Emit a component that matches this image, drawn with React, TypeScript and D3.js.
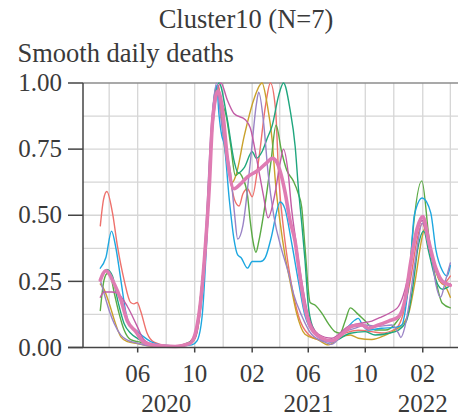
import React from "react";
import * as d3 from "d3";

type Pt = [string, number];

const RED: Pt[] = [["2020-03-13",0.46],["2020-03-20",0.56],["2020-03-27",0.59],["2020-04-08",0.51],["2020-04-19",0.38],["2020-05-03",0.255],["2020-05-17",0.17],["2020-05-24",0.165],["2020-05-31",0.17],["2020-06-07",0.14],["2020-06-21",0.055],["2020-07-06",0.02],["2020-08-01",0.008],["2020-09-01",0.006],["2020-09-20",0.02],["2020-10-01",0.05],["2020-10-14",0.2],["2020-10-25",0.43],["2020-11-05",0.8],["2020-11-14",0.97],["2020-11-21",0.99],["2020-12-01",0.82],["2020-12-14",0.66],["2020-12-25",0.56],["2021-01-04",0.535],["2021-01-12",0.58],["2021-01-22",0.6],["2021-02-01",0.57],["2021-02-15",0.71],["2021-03-02",0.92],["2021-03-12",1.0],["2021-03-23",0.9],["2021-03-30",0.64],["2021-04-09",0.45],["2021-04-23",0.27],["2021-05-11",0.12],["2021-06-01",0.05],["2021-06-23",0.03],["2021-07-21",0.025],["2021-08-20",0.055],["2021-09-16",0.065],["2021-10-15",0.06],["2021-11-05",0.055],["2021-12-04",0.07],["2021-12-18",0.11],["2022-01-06",0.26],["2022-01-20",0.41],["2022-01-31",0.47],["2022-02-14",0.38],["2022-03-01",0.29],["2022-03-15",0.24],["2022-04-01",0.27]];

const BLUE: Pt[] = [["2020-03-13",0.30],["2020-03-25",0.34],["2020-04-06",0.44],["2020-04-15",0.38],["2020-04-26",0.255],["2020-05-07",0.13],["2020-05-17",0.08],["2020-05-28",0.066],["2020-06-14",0.04],["2020-06-29",0.022],["2020-07-20",0.01],["2020-09-01",0.006],["2020-09-25",0.01],["2020-10-06",0.025],["2020-10-17",0.12],["2020-10-28",0.45],["2020-11-07",0.85],["2020-11-17",0.99],["2020-11-22",0.88],["2020-11-28",0.80],["2020-12-03",0.77],["2020-12-14",0.56],["2020-12-24",0.41],["2021-01-01",0.35],["2021-01-08",0.34],["2021-01-22",0.30],["2021-02-01",0.325],["2021-02-19",0.325],["2021-03-01",0.34],["2021-03-13",0.41],["2021-04-02",0.55],["2021-04-12",0.525],["2021-04-26",0.40],["2021-05-11",0.25],["2021-05-25",0.12],["2021-06-16",0.05],["2021-07-07",0.025],["2021-07-21",0.02],["2021-08-19",0.066],["2021-09-09",0.104],["2021-09-16",0.11],["2021-09-25",0.085],["2021-10-08",0.066],["2021-11-05",0.073],["2021-12-04",0.076],["2021-12-18",0.085],["2021-12-28",0.17],["2022-01-06",0.33],["2022-01-14",0.50],["2022-01-31",0.565],["2022-02-18",0.51],["2022-03-01",0.37],["2022-03-15",0.29],["2022-03-25",0.27],["2022-04-01",0.31]];

const GREEN: Pt[] = [["2020-03-13",0.14],["2020-03-21",0.255],["2020-03-28",0.28],["2020-04-03",0.275],["2020-04-12",0.205],["2020-04-22",0.13],["2020-05-03",0.066],["2020-05-17",0.03],["2020-06-07",0.02],["2020-07-06",0.008],["2020-08-15",0.005],["2020-09-20",0.02],["2020-10-03",0.05],["2020-10-14",0.2],["2020-10-25",0.42],["2020-11-06",0.8],["2020-11-19",0.97],["2020-11-29",0.92],["2020-12-07",0.88],["2020-12-17",0.765],["2020-12-27",0.65],["2021-01-04",0.66],["2021-01-12",0.64],["2021-01-22",0.575],["2021-01-28",0.475],["2021-02-04",0.39],["2021-02-09",0.36],["2021-02-15",0.40],["2021-02-26",0.51],["2021-03-13",0.70],["2021-03-24",0.84],["2021-04-05",0.74],["2021-04-16",0.67],["2021-04-30",0.63],["2021-05-11",0.58],["2021-05-18",0.53],["2021-05-25",0.38],["2021-06-05",0.17],["2021-06-16",0.16],["2021-06-30",0.13],["2021-07-14",0.09],["2021-07-28",0.06],["2021-08-08",0.054],["2021-08-19",0.10],["2021-08-30",0.15],["2021-09-13",0.13],["2021-10-01",0.10],["2021-10-22",0.066],["2021-11-13",0.066],["2021-12-04",0.09],["2021-12-18",0.13],["2022-01-02",0.24],["2022-01-10",0.42],["2022-01-30",0.63],["2022-02-14",0.42],["2022-03-01",0.255],["2022-03-15",0.167],["2022-04-01",0.15]];

const TEAL: Pt[] = [["2020-03-14",0.255],["2020-03-27",0.295],["2020-04-08",0.27],["2020-04-19",0.18],["2020-05-03",0.09],["2020-05-17",0.054],["2020-05-31",0.035],["2020-06-21",0.015],["2020-07-20",0.006],["2020-08-20",0.005],["2020-09-20",0.02],["2020-10-03",0.05],["2020-10-15",0.19],["2020-10-26",0.42],["2020-11-07",0.82],["2020-11-22",1.0],["2020-12-09",0.87],["2020-12-25",0.70],["2021-01-02",0.66],["2021-01-15",0.68],["2021-02-01",0.74],["2021-02-10",0.715],["2021-02-22",0.74],["2021-03-05",0.79],["2021-03-16",0.84],["2021-03-30",0.955],["2021-04-09",1.0],["2021-04-23",0.90],["2021-05-04",0.76],["2021-05-11",0.60],["2021-05-18",0.47],["2021-05-25",0.33],["2021-06-01",0.16],["2021-06-10",0.08],["2021-06-23",0.045],["2021-07-21",0.022],["2021-08-30",0.054],["2021-10-01",0.06],["2021-10-22",0.047],["2021-11-20",0.054],["2021-12-11",0.066],["2021-12-28",0.10],["2022-01-10",0.22],["2022-01-22",0.38],["2022-02-03",0.44],["2022-02-14",0.36],["2022-03-01",0.255],["2022-03-15",0.22],["2022-04-01",0.235]];

const GOLD: Pt[] = [["2020-03-13",0.24],["2020-03-21",0.22],["2020-04-01",0.167],["2020-04-12",0.104],["2020-04-26",0.04],["2020-05-10",0.022],["2020-05-31",0.015],["2020-07-01",0.005],["2020-08-20",0.003],["2020-09-20",0.012],["2020-10-03",0.04],["2020-10-15",0.17],["2020-10-26",0.42],["2020-11-07",0.82],["2020-11-20",0.99],["2020-12-01",0.80],["2020-12-12",0.67],["2020-12-21",0.625],["2020-12-28",0.65],["2021-01-15",0.80],["2021-02-04",0.935],["2021-02-22",1.0],["2021-03-05",0.92],["2021-03-16",0.78],["2021-03-23",0.62],["2021-04-02",0.47],["2021-04-12",0.35],["2021-04-23",0.25],["2021-05-07",0.13],["2021-05-25",0.05],["2021-06-23",0.028],["2021-07-14",0.01],["2021-08-10",0.04],["2021-08-30",0.047],["2021-09-16",0.035],["2021-10-15",0.03],["2021-11-13",0.047],["2021-12-04",0.066],["2021-12-25",0.10],["2022-01-02",0.13],["2022-01-16",0.255],["2022-01-31",0.42],["2022-02-05",0.45],["2022-02-21",0.34],["2022-03-08",0.255],["2022-03-22",0.23],["2022-04-01",0.19]];

const PURPLE: Pt[] = [["2020-03-13",0.255],["2020-03-21",0.205],["2020-04-01",0.14],["2020-04-12",0.09],["2020-04-26",0.047],["2020-05-10",0.028],["2020-05-31",0.016],["2020-07-01",0.006],["2020-08-20",0.004],["2020-09-20",0.015],["2020-10-03",0.045],["2020-10-14",0.19],["2020-10-25",0.45],["2020-11-05",0.82],["2020-11-17",1.0],["2020-11-25",0.88],["2020-12-03",0.78],["2020-12-09",0.73],["2020-12-16",0.67],["2020-12-25",0.51],["2021-01-01",0.41],["2021-01-12",0.46],["2021-01-28",0.70],["2021-02-10",0.92],["2021-02-15",0.965],["2021-02-26",0.84],["2021-03-07",0.66],["2021-03-19",0.50],["2021-04-05",0.37],["2021-04-20",0.28],["2021-05-01",0.20],["2021-05-18",0.12],["2021-06-08",0.05],["2021-07-07",0.02],["2021-07-21",0.012],["2021-08-19",0.06],["2021-09-10",0.073],["2021-10-01",0.085],["2021-10-29",0.08],["2021-11-27",0.085],["2021-12-11",0.054],["2021-12-16",0.038],["2021-12-25",0.08],["2022-01-02",0.155],["2022-01-16",0.33],["2022-01-31",0.47],["2022-02-21",0.33],["2022-03-01",0.24],["2022-03-11",0.19],["2022-03-22",0.255],["2022-04-01",0.32]];

const MAGENTA: Pt[] = [["2020-03-13",0.19],["2020-03-21",0.21],["2020-04-06",0.21],["2020-04-19",0.205],["2020-05-10",0.155],["2020-05-31",0.08],["2020-06-14",0.03],["2020-07-06",0.01],["2020-08-20",0.005],["2020-09-20",0.015],["2020-10-03",0.04],["2020-10-15",0.17],["2020-10-27",0.42],["2020-11-08",0.82],["2020-11-26",1.0],["2020-12-10",0.935],["2020-12-24",0.885],["2021-01-18",0.86],["2021-01-28",0.83],["2021-02-12",0.70],["2021-02-25",0.575],["2021-03-07",0.49],["2021-03-21",0.575],["2021-04-02",0.70],["2021-04-09",0.75],["2021-04-19",0.66],["2021-04-26",0.53],["2021-05-04",0.42],["2021-05-18",0.25],["2021-06-01",0.12],["2021-06-23",0.05],["2021-07-21",0.035],["2021-08-26",0.08],["2021-09-16",0.09],["2021-10-15",0.10],["2021-11-05",0.116],["2021-11-27",0.135],["2021-12-11",0.155],["2021-12-25",0.22],["2022-01-02",0.28],["2022-01-16",0.41],["2022-01-31",0.48],["2022-02-14",0.38],["2022-03-01",0.29],["2022-03-15",0.25],["2022-04-01",0.24]];

const MEAN: Pt[] = [["2020-03-13",0.255],["2020-03-25",0.29],["2020-04-12",0.24],["2020-04-26",0.18],["2020-05-10",0.10],["2020-05-28",0.06],["2020-06-14",0.02],["2020-07-10",0.008],["2020-08-20",0.004],["2020-09-20",0.015],["2020-09-30",0.04],["2020-10-14",0.18],["2020-10-25",0.41],["2020-11-01",0.6],["2020-11-08",0.85],["2020-11-20",0.97],["2020-11-29",0.905],["2020-12-10",0.715],["2020-12-24",0.60],["2021-01-08",0.62],["2021-01-22",0.645],["2021-02-14",0.67],["2021-03-05",0.70],["2021-03-16",0.715],["2021-03-26",0.70],["2021-04-02",0.665],["2021-04-12",0.59],["2021-04-23",0.48],["2021-05-04",0.40],["2021-05-11",0.31],["2021-05-25",0.15],["2021-06-08",0.07],["2021-06-30",0.035],["2021-07-21",0.025],["2021-08-12",0.05],["2021-09-02",0.08],["2021-09-23",0.085],["2021-10-08",0.073],["2021-10-29",0.085],["2021-11-20",0.10],["2021-12-11",0.116],["2021-12-25",0.18],["2022-01-06",0.32],["2022-01-20",0.45],["2022-02-01",0.495],["2022-02-14",0.40],["2022-03-01",0.30],["2022-03-15",0.25],["2022-04-01",0.235]];

const SERIES: { data: Pt[]; color: string }[] = [
  { data: RED, color: "#EE716C" },
  { data: GOLD, color: "#C9A12B" },
  { data: GREEN, color: "#5BAA45" },
  { data: TEAL, color: "#1FA67E" },
  { data: BLUE, color: "#1DA7E0" },
  { data: PURPLE, color: "#9A83C6" },
  { data: MAGENTA, color: "#C25CA6" },
];
const MEAN_COLOR = "#DF7CB3";

const Y_TICKS = [0, 0.25, 0.5, 0.75, 1.0];
const Y_GRID = [0.125, 0.25, 0.375, 0.5, 0.625, 0.75, 0.875];
const X_TICKS = ["2020-06-01", "2020-10-01", "2021-02-01", "2021-06-01", "2021-10-01", "2022-02-01"];
const TITLE = "Cluster10 (N=7)";
const Y_LABEL = "Smooth daily deaths";

const W = 458, H = 416;
const L = 83, R = 458, T = 83, B = 347.5;
const FONT = "'Liberation Serif', 'Times New Roman', serif";
const TXT = "#3a3a3a";

export default function App() {
  const parse = d3.utcParse("%Y-%m-%d");
  const x = d3.scaleUtc().domain([parse("2020-02-05")!, parse("2022-04-02")!]).range([L, 450.8]);
  const y = d3.scaleLinear().domain([0, 1]).range([B, T]);
  const line = d3
    .line<Pt>()
    .x((d) => x(parse(d[0])!))
    .y((d) => y(d[1]))
    .curve(d3.curveMonotoneX);

  const gridStart = parse("2020-04-01")!;
  const vGrid: Date[] = [];
  for (let i = 0; i <= 12; i++) vGrid.push(d3.utcMonth.offset(gridStart, i * 2));

  const fmtM = d3.utcFormat("%m");
  const ticks = X_TICKS.map((s) => parse(s)!);
  const years = d3.groups(ticks, (d) => d.getUTCFullYear()).map(([yr, ds]) => ({
    yr,
    cx: d3.mean(ds, (d) => x(d))!,
  }));

  return (
    <svg width={W} height={H} style={{ position: "absolute", left: 0, top: 0, background: "#fff" }}>
      <rect x={0} y={0} width={W} height={H} fill="#fff" />
      {/* grid */}
      {vGrid.map((d, i) => (
        <line key={"v" + i} x1={x(d)} x2={x(d)} y1={T} y2={B} stroke="#d6d6d6" strokeWidth={1.3} />
      ))}
      {Y_GRID.map((v, i) => (
        <line key={"h" + i} x1={L} x2={R} y1={y(v)} y2={y(v)} stroke="#d6d6d6" strokeWidth={1.3} />
      ))}
      <line x1={L} x2={R} y1={T} y2={T} stroke="#8c8c8c" strokeWidth={1.6} />
      {/* series */}
      <g fill="none" strokeLinejoin="round" strokeLinecap="round">
        {SERIES.map((s, i) => (
          <path key={i} d={line(s.data)!} stroke={s.color} strokeWidth={1.4} />
        ))}
        <path d={line(MEAN)!} stroke={MEAN_COLOR} strokeWidth={3.6} />
      </g>
      {/* axes */}
      <line x1={L} x2={L} y1={T} y2={B} stroke="#444" strokeWidth={1.5} />
      <line x1={68} x2={R} y1={B} y2={B} stroke="#444" strokeWidth={1.5} />
      {Y_TICKS.map((v) => (
        <g key={"yt" + v}>
          <line x1={68} x2={L} y1={y(v)} y2={y(v)} stroke="#444" strokeWidth={1.5} />
          <text x={62} y={y(v) + 8.2} textAnchor="end" fontFamily={FONT} fontSize={25} fill={TXT}>
            {v.toFixed(2)}
          </text>
        </g>
      ))}
      {ticks.map((d, i) => (
        <g key={"xt" + i}>
          <line x1={x(d)} x2={x(d)} y1={B} y2={B + 5} stroke="#444" strokeWidth={1.5} />
          <text x={x(d)} y={381.5} textAnchor="middle" fontFamily={FONT} fontSize={25} fill={TXT}>
            {fmtM(d)}
          </text>
        </g>
      ))}
      {years.map((yv) => (
        <text key={yv.yr} x={yv.cx} y={411.5} textAnchor="middle" fontFamily={FONT} fontSize={25} fill={TXT}>
          {yv.yr}
        </text>
      ))}
      <text x={246} y={28} textAnchor="middle" fontFamily={FONT} fontSize={26.5} fill={TXT}>
        {TITLE}
      </text>
      <text x={17.5} y={62} fontFamily={FONT} fontSize={26.5} fill={TXT}>
        {Y_LABEL}
      </text>
    </svg>
  );
}
